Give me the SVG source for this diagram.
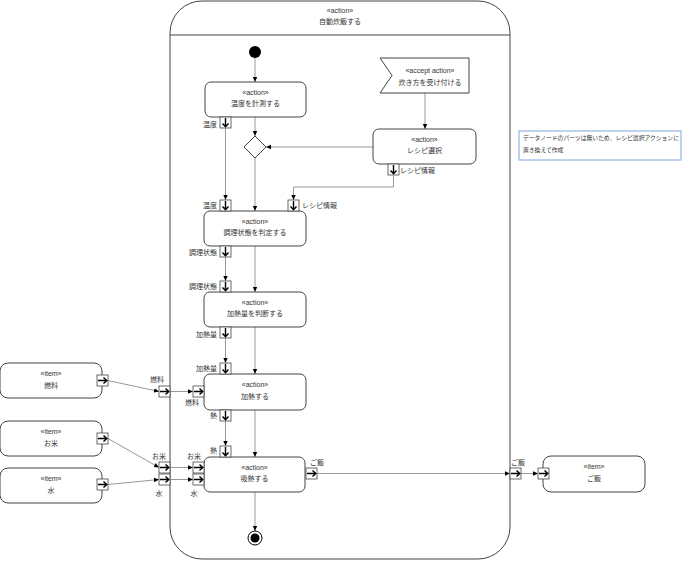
<svg xmlns="http://www.w3.org/2000/svg" width="683" height="562" viewBox="0 0 683 562">
<style>
text{font-family:"Liberation Sans","Noto Sans CJK JP",sans-serif;font-size:7px;fill:#333}
.c{text-anchor:middle}
.e{text-anchor:end}
.n{font-size:5.8px}
.box{fill:#fff;stroke:#444;stroke-width:1}
.edge{fill:none;stroke:#999;stroke-width:1;marker-end:url(#ah)}
.pin{fill:#fff;stroke:#444;stroke-width:0.8}
.pa{fill:none;stroke:#000;stroke-width:1.4}
</style>
<defs>
<marker id="ah" markerWidth="6" markerHeight="6" refX="5" refY="3" orient="auto" markerUnits="userSpaceOnUse">
<path d="M0,0.8 L5,3 L0,5.2 Z" fill="#000"/>
</marker>
<g id="pinD"><rect class="pin" x="0" y="0" width="11" height="11"/><path class="pa" d="M5.5,1 V10 M2.5,6.5 L5.5,9.8 L8.5,6.5"/></g>
<g id="pinR"><rect class="pin" x="0" y="0" width="11" height="11"/><path class="pa" d="M1,5.5 H10 M6.5,2.5 L9.8,5.5 L6.5,8.5"/></g>
</defs>

<g id="frame">
<rect x="170" y="1" width="340" height="558" rx="32" ry="32" fill="#fff" stroke="#444"/>
<line x1="170" y1="35" x2="510" y2="35" stroke="#444"/>
<text class="c" x="340" y="12.5">«action»</text>
<text class="c" x="340" y="23.5">自動炊飯する</text>
</g>

<g id="connectors">
<path class="edge" d="M255,58 V82"/>
<path class="edge" d="M255,117 V136"/>
<path class="edge" d="M255,158 V211"/>
<path class="edge" d="M373,147 H266"/>
<path class="edge" d="M425,93 V129"/>
<path class="edge" d="M393.5,176 V187 H293.5 V200"/>
<path class="edge" d="M225.5,128 V200"/>
<path class="edge" d="M255,246 V292"/>
<path class="edge" d="M225.5,257 V281"/>
<path class="edge" d="M255,327 V374"/>
<path class="edge" d="M225.5,338 V363"/>
<path class="edge" d="M255,410 V457"/>
<path class="edge" d="M225.5,421 V446"/>
<path class="edge" d="M255,492 V531"/>
<path class="edge" d="M108,380.5 L159,391.5"/>
<path class="edge" d="M170,391.5 H193"/>
<path class="edge" d="M108,438.5 L159,467.5"/>
<path class="edge" d="M170,467.5 H193"/>
<path class="edge" d="M108,484.5 L159,479.5"/>
<path class="edge" d="M170,479.5 H193"/>
<path class="edge" d="M317,473.5 H510"/>
<path class="edge" d="M521,473.5 H538"/>
</g>

<g id="start"><circle cx="255" cy="52" r="6" fill="#000"/></g>

<g id="measure">
<rect class="box" x="205" y="82" width="101" height="35" rx="6"/>
<text class="c" x="255.5" y="95">«action»</text>
<text class="c" x="255.5" y="106">温度を計測する</text>
<use href="#pinD" x="220" y="117"/>
<text class="e" x="217" y="127">温度</text>
</g>

<g id="decision"><polygon points="255,136 266,147 255,158 244,147" fill="#fff" stroke="#444"/></g>

<g id="accept">
<polygon points="380,58 469,58 469,93 380,93 392,75.5" fill="#fff" stroke="#444"/>
<text class="c" x="430" y="73">«accept action»</text>
<text class="c" x="430" y="84.5">炊き方を受け付ける</text>
</g>

<g id="recipe">
<rect class="box" x="373" y="129" width="103" height="35" rx="6"/>
<text class="c" x="424.5" y="142">«action»</text>
<text class="c" x="424.5" y="153">レシピ選択</text>
<use href="#pinD" x="388" y="164"/>
<text x="400" y="173">レシピ情報</text>
</g>

<g id="note">
<rect x="519" y="131" width="162" height="29" fill="#fff" stroke="#7EA6E0"/>
<text class="n" x="523" y="140">データノードのパーツは無いため、レシピ選択アクションに</text>
<text class="n" x="523" y="151.5">置き換えて作成</text>
</g>

<g id="judge">
<rect class="box" x="204" y="211" width="102" height="35" rx="6"/>
<text class="c" x="255" y="224">«action»</text>
<text class="c" x="255" y="235">調理状態を判定する</text>
<use href="#pinD" x="220" y="200"/>
<text class="e" x="217" y="208">温度</text>
<use href="#pinD" x="288" y="200"/>
<text x="302" y="208">レシピ情報</text>
<use href="#pinD" x="220" y="246"/>
<text class="e" x="217" y="255">調理状態</text>
</g>

<g id="decide">
<rect class="box" x="204" y="292" width="102" height="35" rx="6"/>
<text class="c" x="255" y="305">«action»</text>
<text class="c" x="255" y="316">加熱量を判断する</text>
<use href="#pinD" x="220" y="281"/>
<text class="e" x="217" y="289">調理状態</text>
<use href="#pinD" x="220" y="327"/>
<text class="e" x="217" y="337">加熱量</text>
</g>

<g id="heat">
<rect class="box" x="204" y="374" width="102" height="36" rx="6"/>
<text class="c" x="255" y="387">«action»</text>
<text class="c" x="255" y="398.5">加熱する</text>
<use href="#pinD" x="220" y="363"/>
<text class="e" x="217" y="371">加熱量</text>
<use href="#pinR" x="193" y="386"/>
<text class="c" x="192" y="405">燃料</text>
<use href="#pinD" x="220" y="410"/>
<text class="e" x="217" y="418">熱</text>
</g>

<g id="absorb">
<rect class="box" x="204" y="457" width="101" height="35" rx="6"/>
<text class="c" x="254.5" y="470">«action»</text>
<text class="c" x="254.5" y="481">吸熱する</text>
<use href="#pinD" x="220" y="446"/>
<text class="e" x="217" y="453">熱</text>
<use href="#pinR" x="193" y="462"/>
<text class="c" x="194" y="459">お米</text>
<use href="#pinR" x="193" y="474"/>
<text class="c" x="194" y="496">水</text>
<use href="#pinR" x="306" y="468"/>
<text class="c" x="317" y="465">ご飯</text>
</g>

<g id="framePins">
<use href="#pinR" x="159" y="386"/>
<text class="c" x="157" y="382">燃料</text>
<use href="#pinR" x="159" y="462"/>
<text class="c" x="159" y="459">お米</text>
<use href="#pinR" x="159" y="474"/>
<text class="c" x="159" y="496">水</text>
<use href="#pinR" x="510" y="468"/>
<text class="c" x="518" y="465">ご飯</text>
</g>

<g id="final">
<circle cx="255" cy="538" r="7" fill="#fff" stroke="#000"/>
<circle cx="255" cy="538" r="4.5" fill="#000"/>
</g>

<g id="itemFuel">
<rect class="box" x="0" y="363" width="102" height="35" rx="8"/>
<text class="c" x="51" y="376">«item»</text>
<text class="c" x="51" y="387.5">燃料</text>
<use href="#pinR" x="97" y="375"/>
</g>

<g id="itemRice">
<rect class="box" x="0" y="421" width="102" height="35" rx="8"/>
<text class="c" x="51" y="434">«item»</text>
<text class="c" x="51" y="445.5">お米</text>
<use href="#pinR" x="97" y="433"/>
</g>

<g id="itemWater">
<rect class="box" x="0" y="468" width="102" height="35" rx="8"/>
<text class="c" x="51" y="481">«item»</text>
<text class="c" x="51" y="492.5">水</text>
<use href="#pinR" x="97" y="479"/>
</g>

<g id="itemGohan">
<rect class="box" x="543" y="456" width="102" height="36" rx="8"/>
<text class="c" x="594" y="469">«item»</text>
<text class="c" x="594" y="481">ご飯</text>
<use href="#pinR" x="538" y="468"/>
</g>
</svg>
